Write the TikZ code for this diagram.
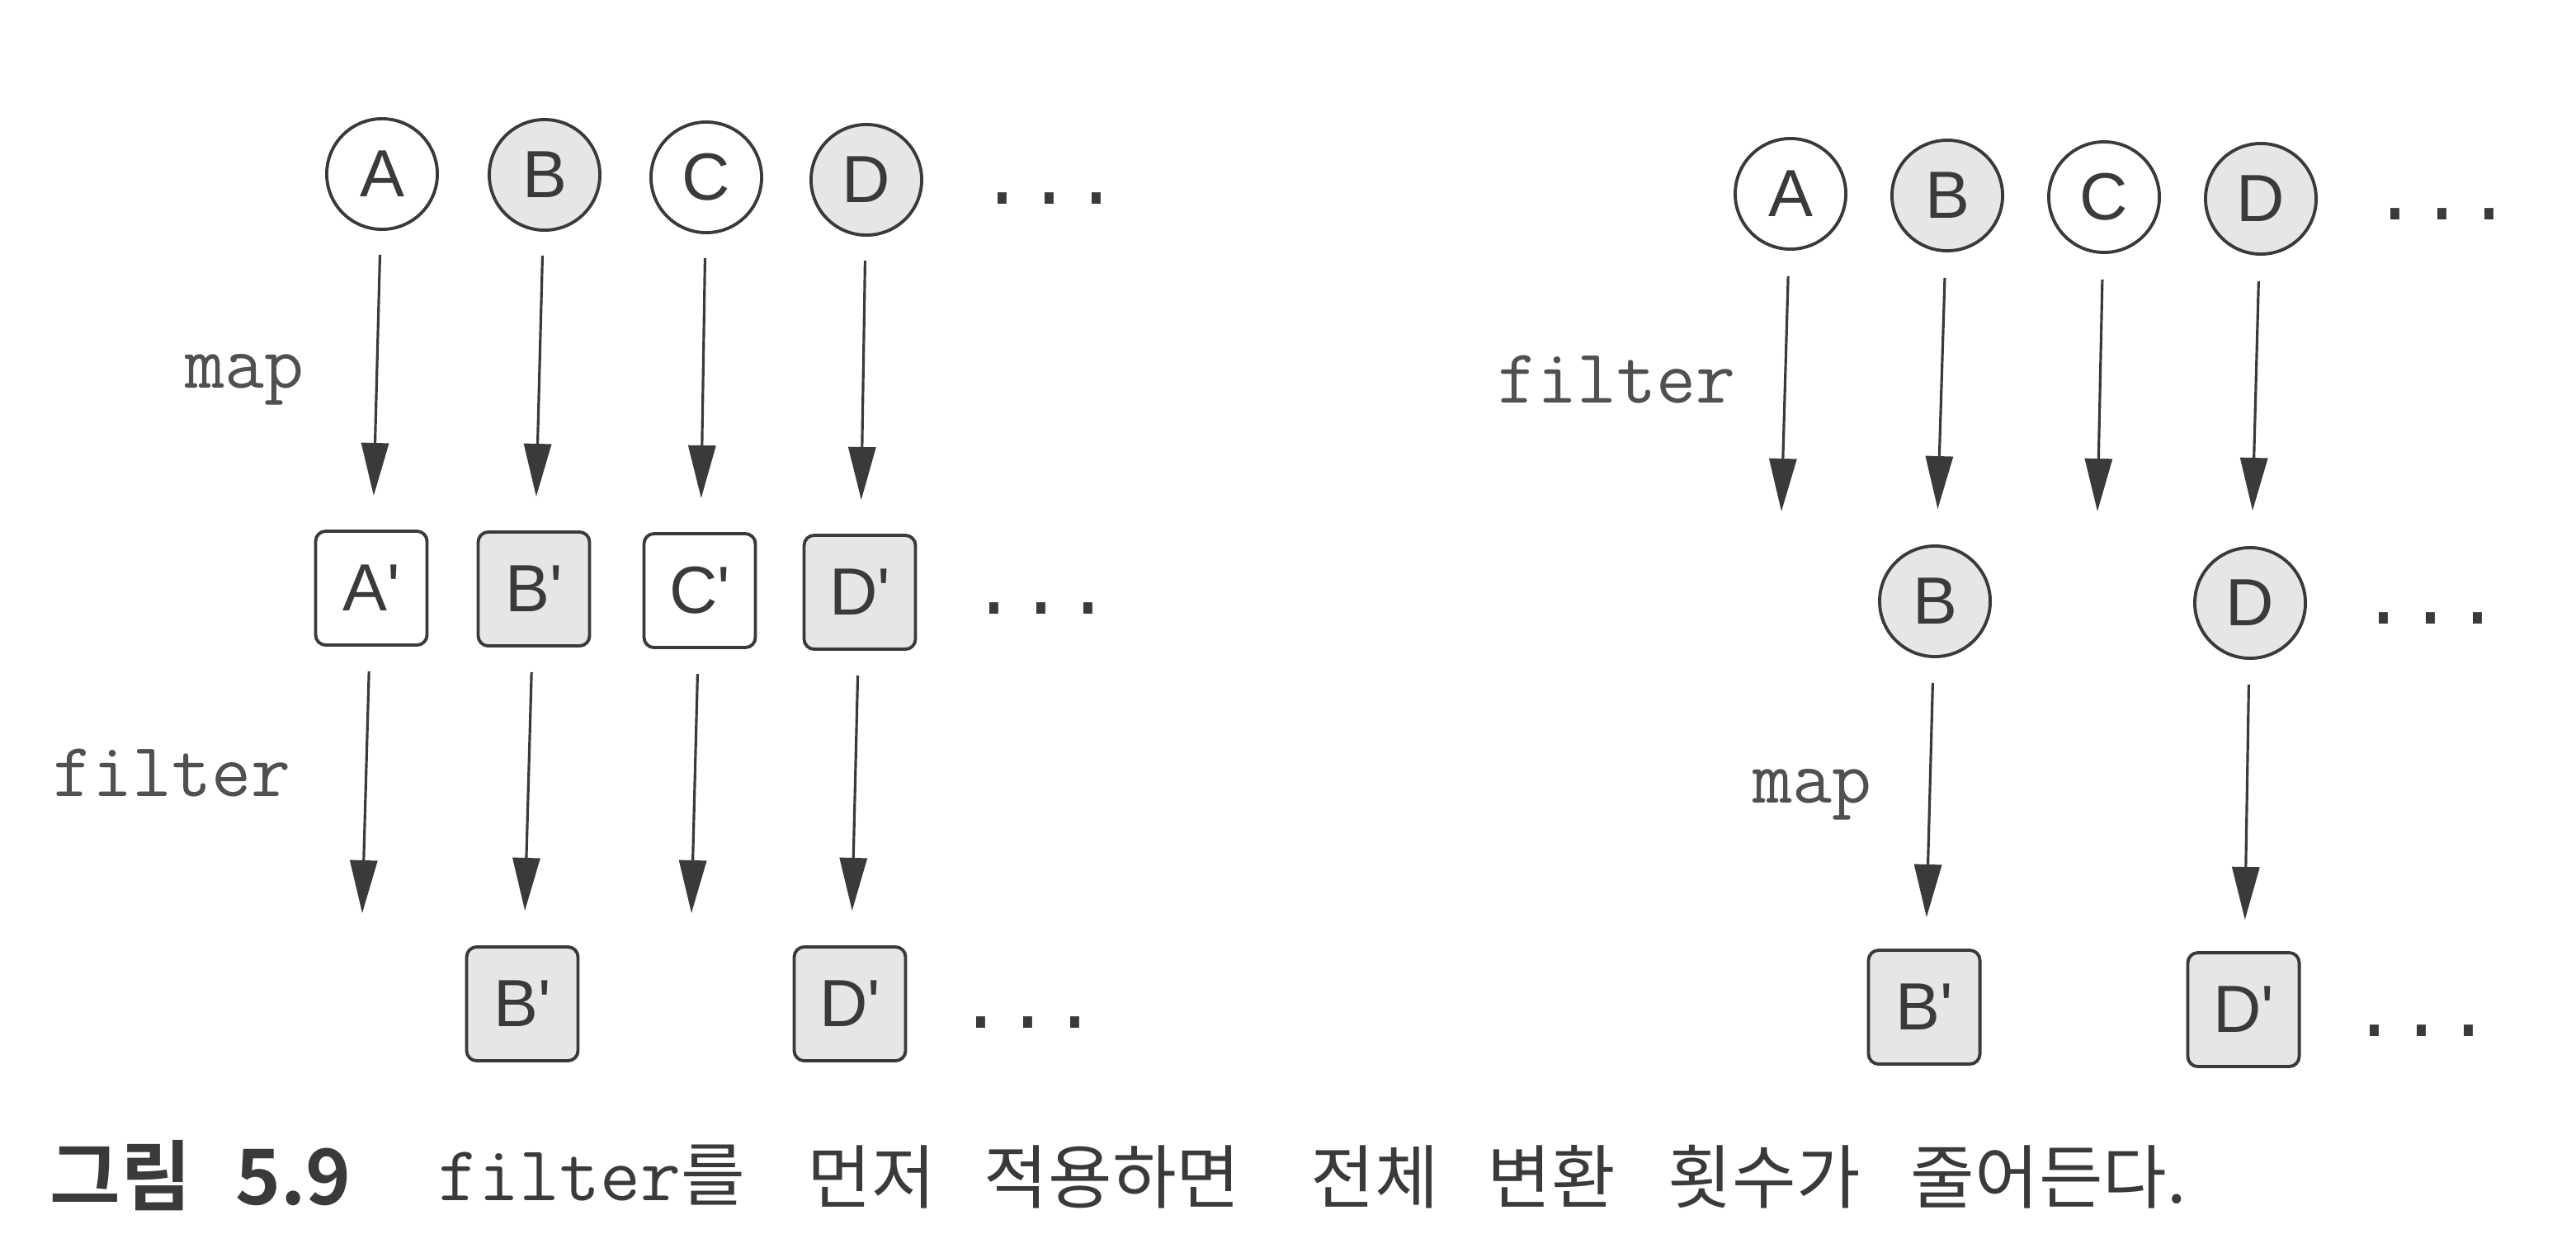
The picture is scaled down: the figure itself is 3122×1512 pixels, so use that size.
\documentclass[tikz,border=0pt]{standalone}
\usepackage{fontspec}
\setmainfont{Liberation Sans}
\newfontfamily\nodefont{Liberation Sans}[Ligatures=TeXOff]
\newfontfamily\monofont{Liberation Mono}
\newfontfamily\kr{Noto Sans CJK KR}
\newfontfamily\krb{Noto Sans CJK KR Bold}
\usetikzlibrary{arrows.meta,calc}
\definecolor{ink}{HTML}{3A3A3A}
\definecolor{shade}{HTML}{E6E6E6}
\definecolor{labelgray}{HTML}{505050}
\begin{document}
\begin{tikzpicture}[x=0.01cm,y=-0.01cm,
  circ/.style={circle,draw=ink,line width=1.1pt,minimum size=1.34cm,inner sep=0pt,
    font=\nodefont\fontsize{23}{26}\selectfont,text=ink},
  sq/.style={rectangle,rounded corners=3.5pt,draw=ink,line width=1.1pt,
    minimum width=1.35cm,minimum height=1.38cm,inner sep=0pt,
    font=\nodefont\fontsize{23}{26}\selectfont,text=ink},
  shaded/.style={fill=shade},
  blank/.style={fill=white},
  arr/.style={draw=ink,line width=0.9pt,-{Triangle[length=0.64cm,width=0.33cm]}},
  lbl/.style={anchor=base west,inner sep=0pt,font=\ttfamily\fontsize{26.5}{30}\selectfont,text=labelgray},
  dots/.style={inner sep=0pt,font=\monofont\fontsize{27}{30}\selectfont,text=ink},
  captext/.style={anchor=base west,inner sep=0pt,text=ink,font=\kr\fontsize{24}{28}\selectfont},
  captextb/.style={captext,font=\krb\fontsize{26.5}{30}\selectfont},
]
\useasboundingbox[fill=white] (0,0) rectangle (3122,1512);

% ---------------- left panel ----------------
\node[circ,blank]  (la) at (463,211) {A};
\node[circ,shaded] (lb) at (660,212) {B};
\node[circ,blank]  (lc) at (856,215) {C};
\node[circ,shaded] (ld) at (1050,218) {D};
\node[dots] (ldots1) at (1272,241) {...};

\node[lbl] (lmap) at (224,470) {map};

\node[sq,blank]  (lap) at (450,713) {A'};
\node[sq,shaded] (lbp) at (647,714) {B'};
\node[sq,blank]  (lcp) at (848,716) {C'};
\node[sq,shaded] (ldp) at (1042,718) {D'};
\node[dots] (ldots2) at (1262,738) {...};

\foreach \s/\t in {la/lap,lb/lbp,lc/lcp,ld/ldp}
  \draw[arr,shorten <=0.29cm,shorten >=0.41cm] (\s) -- (\t);

\node[lbl] (lfilter) at (64,965) {filter};

\coordinate (laf) at (439,1107);
\coordinate (lcf) at (838,1107);
\node[sq,shaded] (lbpp) at (633,1217) {B'};
\node[sq,shaded] (ldpp) at (1030,1217) {D'};
\node[dots] (ldots3) at (1246,1240) {...};

\draw[arr,shorten <=0.30cm] (lap) -- (laf);
\draw[arr,shorten <=0.30cm] (lcp) -- (lcf);
\draw[arr,shorten <=0.30cm,shorten >=0.42cm] (lbp) -- (lbpp);
\draw[arr,shorten <=0.30cm,shorten >=0.42cm] (ldp) -- (ldpp);

% ---------------- right panel ----------------
\node[circ,blank]  (ra) at (2170,235) {A};
\node[circ,shaded] (rb) at (2360,237) {B};
\node[circ,blank]  (rc) at (2550,239) {C};
\node[circ,shaded] (rd) at (2740,241) {D};
\node[dots] (rdots1) at (2960,260) {...};

\node[lbl] (rfilter) at (1815,488) {filter};

\coordinate (raf) at (2159,620);
\coordinate (rcf) at (2542,620);
\node[circ,shaded] (rbm) at (2345,729) {B};
\node[circ,shaded] (rdm) at (2727,731) {D};
\node[dots] (rdots2) at (2946,750) {...};

\draw[arr,shorten <=0.31cm] (ra) -- (raf);
\draw[arr,shorten <=0.31cm] (rc) -- (rcf);
\draw[arr,shorten <=0.31cm,shorten >=0.43cm] (rb) -- (rbm);
\draw[arr,shorten <=0.31cm,shorten >=0.43cm] (rd) -- (rdm);

\node[lbl] (rmap) at (2124,973) {map};

\node[sq,shaded] (rbp) at (2332,1221) {B'};
\node[sq,shaded] (rdp) at (2719,1224) {D'};
\node[dots] (rdots3) at (2935,1250) {...};

\draw[arr,shorten <=0.30cm,shorten >=0.38cm] (rbm) -- (rbp);
\draw[arr,shorten <=0.30cm,shorten >=0.38cm] (rdm) -- (rdp);

% ---------------- caption ----------------
\node[captextb] (c1) at (60,1460) {그림};
\node[captextb] (c2) at (285,1460) {5.9};
\node[captext]  (c3) at (531,1455) {{\ttfamily\fontsize{27}{30}\selectfont filter}를};
\node[captext]  (c4) at (978,1458) {먼저};
\node[captext]  (c5) at (1192,1458) {적용하면};
\node[captext]  (c6) at (1588,1458) {전체};
\node[captext]  (c7) at (1802,1458) {변환};
\node[captext]  (c8) at (2021,1458) {횟수가};
\node[captext]  (c9) at (2315,1458) {줄어든다.};
\end{tikzpicture}
\end{document}
